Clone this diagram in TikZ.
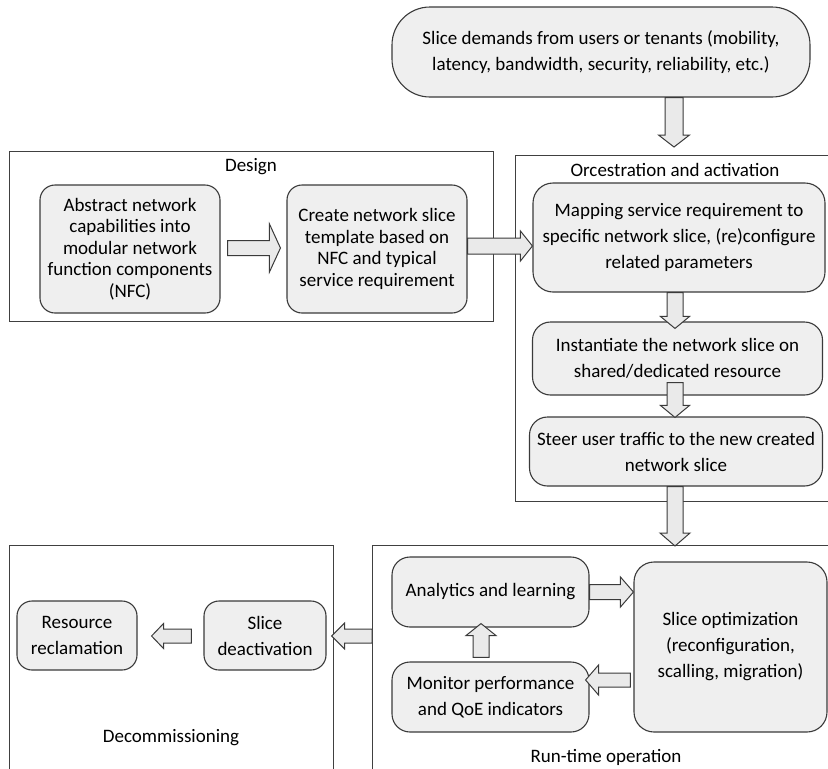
\documentclass[tikz,border=0pt]{standalone}
\usepackage{fontspec}
\setmainfont{Carlito}
\usetikzlibrary{calc}

\definecolor{edge}{HTML}{3A3A3A}
\definecolor{framec}{HTML}{404040}
\definecolor{boxfill}{HTML}{EFEFEF}
\definecolor{arrowfill}{HTML}{EAEAEA}

\newcommand{\txtloose}{\fontsize{19}{26}\selectfont}
\newcommand{\txttight}{\fontsize{19}{21.5}\selectfont}

\tikzset{
  stage/.style={draw=framec, line width=1pt},
  stagetitle/.style={font=\txtloose, inner sep=0pt},
  task/.style={draw=edge, fill=boxfill, line width=1.1pt, rounded corners=16pt,
    align=center, font=\txtloose, inner sep=0pt},
  barrow/.style={draw=edge, fill=arrowfill, line width=1pt, line join=miter},
}

% horizontal block arrow: {from}{to}{shaft half width}{head half width}{signed offset of head base from tip}
\newcommand{\hblockarrow}[5]{%
  \draw[barrow] ($(#1)+(0,#3)$) -- ($(#2)+(#5,#3)$) -- ($(#2)+(#5,#4)$) -- (#2)
    -- ($(#2)+(#5,-#4)$) -- ($(#2)+(#5,-#3)$) -- ($(#1)+(0,-#3)$) -- cycle;}
% vertical block arrow: {from}{to}{shaft half width}{head half width}{signed offset of head base from tip}
\newcommand{\vblockarrow}[5]{%
  \draw[barrow] ($(#1)+(#3,0)$) -- ($(#2)+(#3,#5)$) -- ($(#2)+(#4,#5)$) -- (#2)
    -- ($(#2)+(-#4,#5)$) -- ($(#2)+(-#3,#5)$) -- ($(#1)+(-#3,0)$) -- cycle;}

\begin{document}
\begin{tikzpicture}[x=1pt, y=-1pt]
\useasboundingbox (0,0) rectangle (828,769);

% stage frames
\draw[stage] (9,151) rectangle (493,321);
\draw[stage] (840,155) -| (515,501) -- (840,501);
\draw[stage] (9,780) |- (333,545) -- (333,780);
\draw[stage] (372,780) |- (840,545);
\coordinate (orchNW) at (515,155);
\coordinate (runNW) at (372,545);

\node[stagetitle] (designT) at (251,167) {Design};
\node[stagetitle] (orchT) at (675,170) {Orcestration and activation};
\node[stagetitle] (decomT) at (171,738) {Decommissioning};
\node[stagetitle] (runT) at (606,757) {Run-time operation};

% steps
\node[task, rounded corners=38pt, minimum width=418pt, minimum height=90pt] (demand) at (601,52)
  {Slice demands from users or tenants (mobility,\\latency, bandwidth, security, reliability, etc.)};

\node[task, font=\txttight, rounded corners=15pt, minimum width=180pt, minimum height=128pt] (abstract) at (130,249)
  {Abstract network\\capabilities into\\modular network\\function components\\(NFC)};
\node[task, font=\txttight, rounded corners=15pt, minimum width=180pt, minimum height=128pt] (create) at (377,249)
  {Create network slice\\template based on\\NFC and typical\\service requirement};

\node[task, rounded corners=20pt, minimum width=292pt, minimum height=109pt] (mapping) at (679,237.5)
  {Mapping service requirement to\\specific network slice, (re)configure\\related parameters};
\node[task, rounded corners=18pt, minimum width=290pt, minimum height=73pt] (inst) at (677.5,358.5)
  {Instantiate the network slice on\\shared/dedicated resource};
\node[task, rounded corners=18pt, minimum width=293pt, minimum height=69pt] (steer) at (676,451.5)
  {Steer user traffic to the new created\\network slice};

\node[task, rounded corners=15pt, minimum width=120pt, minimum height=69pt] (resource) at (77,635.5)
  {Resource\\reclamation};
\node[task, rounded corners=15pt, minimum width=122pt, minimum height=69pt] (deact) at (265,635.5)
  {Slice\\deactivation};

\node[task, rounded corners=18pt, minimum width=197pt, minimum height=70pt] (analytics) at (490.5,592)
  {Analytics and learning};
\node[task, rounded corners=18pt, minimum width=197pt, minimum height=70pt] (monitor) at (490.5,697)
  {Monitor performance\\and QoE indicators};
\node[task, rounded corners=20pt, minimum width=193pt, minimum height=170pt] (sliceopt) at (730.5,647)
  {Slice optimization\\(reconfiguration,\\scalling, migration)};

% end points of the block arrows
\coordinate (a1s) at ($(demand.south)+(73,0)$);
\coordinate (a1t) at ($(orchNW)+(159,-8)$);
\coordinate (a2s) at ($(abstract.east)+(7,-1)$);
\coordinate (a2t) at ($(create.west)+(-6,-1)$);
\coordinate (a3s) at ($(create.east)+(0,-3)$);
\coordinate (a3t) at ($(mapping.west)+(0,8.5)$);
\coordinate (a4s) at ($(mapping.south)+(-4,0)$);
\coordinate (a4t) at ($(inst.north)+(-2.5,7)$);
\coordinate (a5s) at ($(inst.south)+(-2.5,-13)$);
\coordinate (a5t) at ($(steer.north)+(-1,1)$);
\coordinate (a6s) at ($(steer.south)+(-1,0)$);
\coordinate (a6t) at ($(runNW)+(303,1)$);
\coordinate (a7s) at ($(runNW)+(0,91)$);
\coordinate (a7t) at ($(deact.east)+(5,0.5)$);
\coordinate (a8s) at ($(deact.west)+(-12,0.5)$);
\coordinate (a8t) at ($(resource.east)+(14,0.5)$);
\coordinate (a9s) at (analytics.east);
\coordinate (a9t) at ($(sliceopt.west)+(0,-55)$);
\coordinate (a10s) at ($(sliceopt.west)+(-3,33)$);
\coordinate (a10t) at ($(monitor.east)+(-4,-17)$);
\coordinate (a11s) at ($(monitor.north)+(-9.5,-4)$);
\coordinate (a11t) at ($(analytics.south)+(-9.5,-4)$);

% block arrows between steps
\vblockarrow{a1s}{a1t}{9}{15.5}{-12}
\hblockarrow{a2s}{a2t}{7.5}{24}{-11}
\hblockarrow{a3s}{a3t}{8}{15}{-12}
\vblockarrow{a4s}{a4t}{8}{14.5}{-12}
\vblockarrow{a5s}{a5t}{8}{14.5}{-12}
\vblockarrow{a6s}{a6t}{8}{15}{-13}
\hblockarrow{a7s}{a7t}{7}{13}{13}
\hblockarrow{a8s}{a8t}{7}{12.5}{12}
\hblockarrow{a9s}{a9t}{7.5}{15}{-13}
\hblockarrow{a10s}{a10t}{7}{15}{13}
\vblockarrow{a11s}{a11t}{8}{15}{12}
\end{tikzpicture}
\end{document}
